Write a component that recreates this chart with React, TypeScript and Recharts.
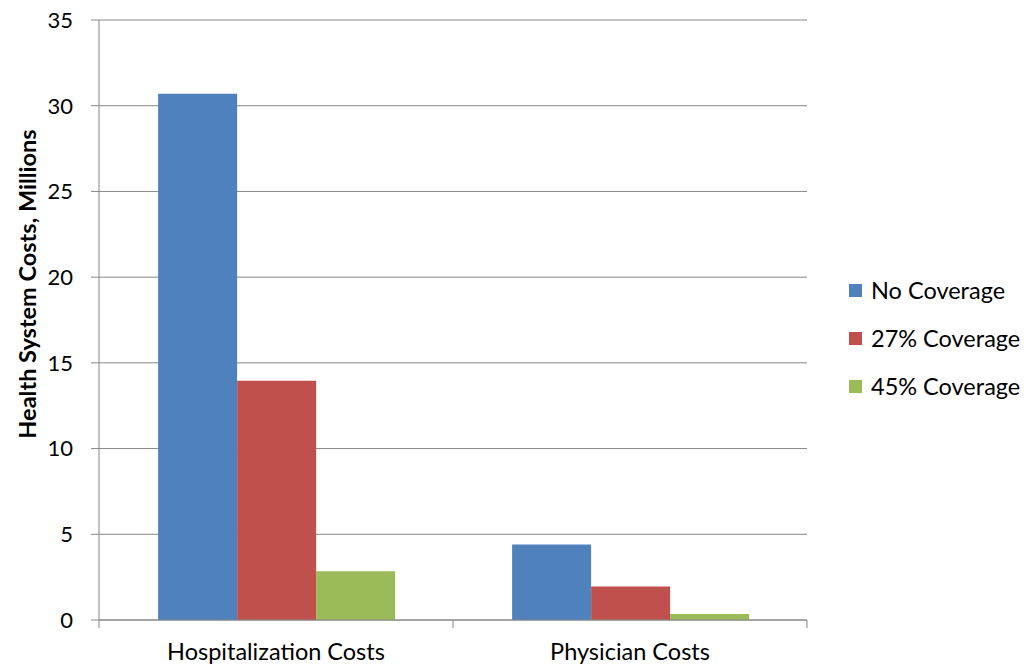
import { BarChart, Bar, XAxis, YAxis, CartesianGrid, Label } from "recharts";

const categories = ["Hospitalization Costs", "Physician Costs"];
const noCoverage = [30.7, 4.4];
const coverage27 = [13.95, 1.95];
const coverage45 = [2.85, 0.35];
const yTicks = [0, 5, 10, 15, 20, 25, 30, 35];

const series = [
  { key: "none", name: "No Coverage", color: "#4F81BD", values: noCoverage },
  { key: "c27", name: "27% Coverage", color: "#C0504D", values: coverage27 },
  { key: "c45", name: "45% Coverage", color: "#9BBB59", values: coverage45 },
];

const data = categories.map((name, i) => {
  const row: Record<string, string | number> = { name };
  series.forEach((s) => (row[s.key] = s.values[i]));
  return row;
});

const FONT = "Lato, 'Open Sans', sans-serif";
const GRID = "#868686";

// x-axis label plus the Excel-style tick marks on category boundaries
const CategoryTick = (props: any) => {
  const { x, y, payload, index, visibleTicksCount } = props;
  const half = payload.offset ?? 177;
  const left = payload.coordinate - half;
  const right = payload.coordinate + half;
  return (
    <g>
      <line x1={left} x2={left} y1={y} y2={y + 8} stroke={GRID} />
      {index === visibleTicksCount - 1 && (
        <line x1={right} x2={right} y1={y} y2={y + 8} stroke={GRID} />
      )}
      <text
        x={x}
        y={y + 40}
        textAnchor="middle"
        fill="#000"
        fontSize={23.5}
        fontFamily={FONT}
      >
        {payload.value}
      </text>
    </g>
  );
};

export default function App() {
  return (
    <div
      style={{
        position: "absolute",
        left: 0,
        top: 0,
        width: 1034,
        height: 665,
        background: "#fff",
        fontFamily: FONT,
      }}
    >
      <BarChart
        width={1034}
        height={665}
        data={data}
        margin={{ top: 20, right: 227, left: 0, bottom: 0 }}
        barCategoryGap="16.7%"
        barGap={0}
      >
        <CartesianGrid vertical={false} stroke={GRID} />
        <XAxis
          dataKey="name"
          height={45}
          axisLine={{ stroke: GRID }}
          tickLine={false}
          tickSize={0}
          tickMargin={0}
          tick={<CategoryTick />}
          interval={0}
        />
        <YAxis
          width={99}
          domain={[0, 35]}
          ticks={yTicks}
          axisLine={{ stroke: GRID }}
          tickLine={{ stroke: GRID }}
          tickSize={8}
          tickMargin={18}
          tick={{ fill: "#000", fontSize: 22, fontFamily: FONT }}
        >
          <Label
            content={() => (
              <text
                transform="translate(27,284) rotate(-90)"
                textAnchor="middle"
                dominantBaseline="central"
                fontWeight={700}
                fontSize={23.5}
                fontFamily={FONT}
                fill="#000"
              >
                Health System Costs, Millions
              </text>
            )}
          />
        </YAxis>
        {series.map((s) => (
          <Bar
            key={s.key}
            dataKey={s.key}
            name={s.name}
            fill={s.color}
            isAnimationActive={false}
          />
        ))}
      </BarChart>
      <div
        style={{
          position: "absolute",
          left: 849,
          top: 277,
          display: "flex",
          flexDirection: "column",
          gap: 22,
        }}
      >
        {series.map((s) => (
          <div
            key={s.key}
            style={{ display: "flex", alignItems: "center", height: 26 }}
          >
            <span
              style={{
                width: 13,
                height: 13,
                background: s.color,
                marginRight: 9,
                display: "inline-block",
              }}
            />
            <span style={{ fontSize: 23.5, color: "#000", whiteSpace: "nowrap" }}>
              {s.name}
            </span>
          </div>
        ))}
      </div>
    </div>
  );
}
